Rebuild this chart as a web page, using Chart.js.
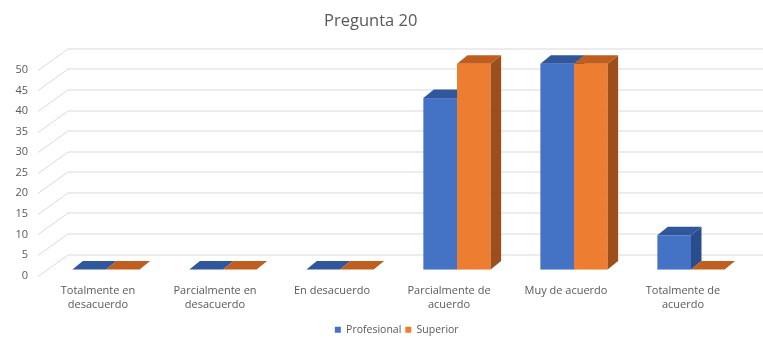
<!DOCTYPE html>
<html>
<head>
<meta charset="utf-8">
<script src="https://cdn.jsdelivr.net/npm/chart.js@4/dist/chart.umd.min.js"></script>
<style>
  html, body { margin: 0; padding: 0; background: #ffffff; }
  #wrap { width: 763px; height: 338px; }
</style>
</head>
<body>
<div id="wrap"><canvas id="c" width="763" height="338"></canvas></div>
<script>
// ---- data ----
const chartTitle = 'Pregunta 20';
const categories = [
  ['Totalmente en', 'desacuerdo'],
  ['Parcialmente en', 'desacuerdo'],
  ['En desacuerdo'],
  ['Parcialmente de', 'acuerdo'],
  ['Muy de acuerdo'],
  ['Totalmente de', 'acuerdo']
];
const seriesNames = ['Profesional', 'Superior'];
const profesional = [0, 0, 0, 41.67, 50, 8.33];
const superior = [0, 0, 0, 50, 50, 0];
const yTicks = { min: 0, max: 50, step: 5 };

// ---- style ----
const textColor = '#595959';
const gridColor = '#d9d9d9';
const faces = [
  { front: '#4472c4', top: '#30569c', side: '#2b4c8b' },
  { front: '#ed7d31', top: '#c05e1f', side: '#9c4f1c' }
];
const ox = 8, oy = -6;        // bar plane relative to front plane
const dx = 10.5, dy = 8.5;    // bar depth
const wallDx = 30, wallDy = 21.5;
const legendShift = { x: 26, y: 7 };

const threeD = {
  id: 'threeD',
  afterLayout(chart) {
    const lg = chart.legend;
    if (lg) {
      lg.left += legendShift.x; lg.right += legendShift.x;
      lg.top += legendShift.y; lg.bottom += legendShift.y;
    }
  },
  beforeDatasetsDraw(chart) {
    const { ctx, chartArea: a, scales: { y } } = chart;
    ctx.save();
    ctx.strokeStyle = gridColor;
    ctx.lineWidth = 1;
    y.ticks.forEach(t => {
      const yf = Math.round(y.getPixelForValue(t.value)) + 0.5;
      ctx.beginPath();
      ctx.moveTo(a.left - 1.5, yf);
      ctx.lineTo(a.left - 1.5 + wallDx, yf - wallDy);
      ctx.lineTo(chart.width, yf - wallDy);
      ctx.stroke();
    });
    const metas = chart.data.datasets.map((d, i) => chart.getDatasetMeta(i));
    const n = chart.data.labels.length;
    for (let i = 0; i < n; i++) {
      for (let d = 0; d < metas.length; d++) {
        const el = metas[d].data[i];
        const p = el.getProps(['x', 'y', 'base', 'width'], true);
        const L = p.x - p.width / 2 + ox, R = p.x + p.width / 2 + ox;
        const T = p.y + oy, B = p.base + oy;
        const c = faces[d];
        if (B - T > 0.5) {
          ctx.fillStyle = c.front;
          ctx.fillRect(L, T, R - L, B - T);
          ctx.fillStyle = c.side;
          ctx.beginPath();
          ctx.moveTo(R, T); ctx.lineTo(R + dx, T - dy);
          ctx.lineTo(R + dx, B - dy); ctx.lineTo(R, B);
          ctx.closePath(); ctx.fill();
        }
        ctx.fillStyle = c.top;
        ctx.beginPath();
        ctx.moveTo(L, T); ctx.lineTo(L + dx, T - dy);
        ctx.lineTo(R + dx, T - dy); ctx.lineTo(R, T);
        ctx.closePath(); ctx.fill();
      }
    }
    ctx.restore();
    return false;
  }
};

new Chart(document.getElementById('c'), {
  type: 'bar',
  data: {
    labels: categories,
    datasets: [
      { label: seriesNames[0], data: profesional, backgroundColor: faces[0].front, borderWidth: 0 },
      { label: seriesNames[1], data: superior, backgroundColor: faces[1].front, borderWidth: 0 }
    ]
  },
  options: {
    responsive: false,
    animation: false,
    layout: { padding: { left: 0, right: 21.5, top: 0, bottom: 0 } },
    datasets: { bar: { categoryPercentage: 0.575, barPercentage: 1.0 } },
    plugins: {
      title: {
        display: true, text: chartTitle, color: textColor,
        font: { family: 'Open Sans', size: 16.5, weight: 'normal' },
        padding: { top: 11, bottom: 39 }
      },
      legend: {
        position: 'bottom',
        labels: {
          color: textColor, boxWidth: 6, boxHeight: 6, padding: 4,
          font: { family: 'Open Sans', size: 10.5 }
        }
      },
      tooltip: { enabled: false }
    },
    scales: {
      x: {
        grid: { display: false }, border: { display: false },
        afterFit(s) { s.height += 2; },
        ticks: {
          color: textColor, padding: 0, maxRotation: 0, autoSkip: false,
          font: { family: 'Open Sans', size: 11, lineHeight: 1.27 }
        }
      },
      y: {
        min: yTicks.min, max: yTicks.max,
        grid: { display: false, drawTicks: false }, border: { display: false },
        afterFit(s) { s.width = 39.5; },
        ticks: {
          stepSize: yTicks.step, color: textColor, padding: 11.5,
          font: { family: 'Open Sans', size: 11 }
        }
      }
    }
  },
  plugins: [threeD]
});
</script>
</body>
</html>
